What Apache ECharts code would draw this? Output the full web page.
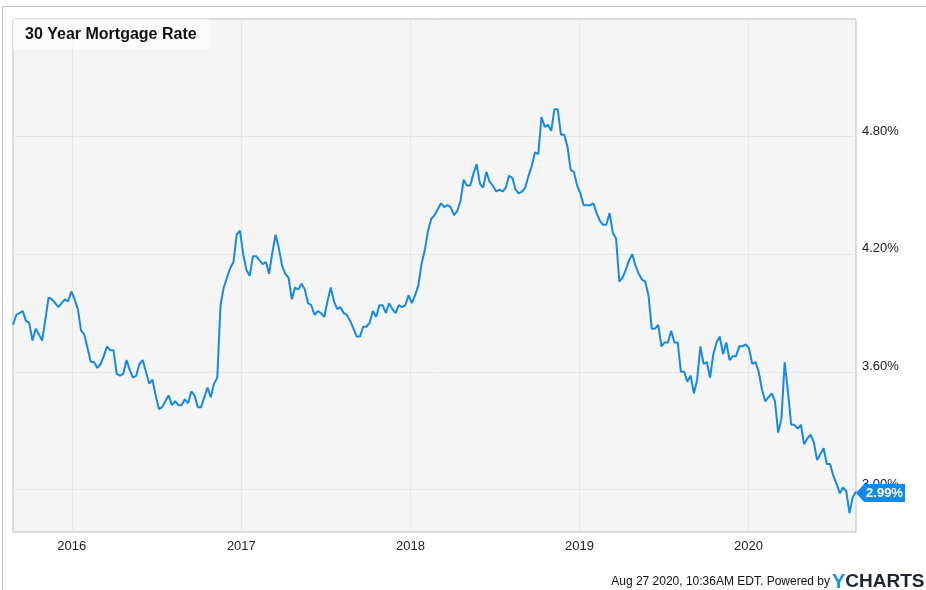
<!DOCTYPE html>
<html>
<head>
<meta charset="utf-8">
<script src="https://cdn.jsdelivr.net/npm/echarts@6/dist/echarts.min.js"></script>
<style>
  html, body { margin: 0; padding: 0; background: #ffffff; }
  #chart { width: 926px; height: 590px; }
</style>
</head>
<body>
<div id="chart"></div>
<script>
// Freddie Mac 30-year fixed, weekly (Thursdays), 2015-08-27 .. 2020-08-20
var firstWeek = '2015-08-27';
var rates2015 = [3.84,3.89,3.90,3.91,3.86,3.85,3.76,3.82,3.79,3.76,3.87,3.98,3.97,3.95,3.93,3.95,3.97,3.96,4.01];
var rates2016 = [3.97,3.92,3.81,3.79,3.72,3.65,3.65,3.62,3.64,3.68,3.73,3.71,3.71,3.59,3.58,3.59,3.66,3.61,3.57,3.58,3.64,3.66,3.60,3.54,3.56,3.48,3.41,3.42,3.45,3.48,3.43,3.45,3.43,3.43,3.46,3.44,3.50,3.48,3.42,3.42,3.47,3.52,3.47,3.54,3.57,3.94,4.03,4.08,4.13,4.16,4.30,4.32];
var rates2017 = [4.20,4.12,4.09,4.19,4.19,4.17,4.15,4.16,4.10,4.21,4.30,4.23,4.14,4.10,4.08,3.97,4.03,4.02,4.05,4.02,3.95,3.94,3.89,3.91,3.90,3.88,3.96,4.03,3.96,3.92,3.93,3.90,3.89,3.86,3.82,3.78,3.78,3.83,3.83,3.85,3.91,3.88,3.94,3.94,3.90,3.95,3.92,3.90,3.94,3.93,3.94,3.99];
var rates2018 = [3.95,3.99,4.04,4.15,4.22,4.32,4.38,4.40,4.43,4.46,4.44,4.45,4.44,4.40,4.42,4.47,4.58,4.55,4.55,4.61,4.66,4.56,4.54,4.62,4.57,4.55,4.52,4.53,4.52,4.54,4.60,4.59,4.53,4.51,4.52,4.54,4.60,4.65,4.72,4.71,4.90,4.85,4.86,4.83,4.94,4.94,4.81,4.81,4.75,4.63,4.62,4.55];
var rates2019 = [4.51,4.45,4.45,4.45,4.46,4.41,4.37,4.35,4.35,4.41,4.31,4.28,4.06,4.08,4.12,4.17,4.20,4.14,4.10,4.07,4.06,3.99,3.82,3.82,3.84,3.73,3.75,3.75,3.81,3.75,3.75,3.60,3.60,3.55,3.58,3.49,3.56,3.73,3.64,3.65,3.57,3.69,3.75,3.78,3.69,3.75,3.66,3.68,3.68,3.73,3.73,3.74];
var rates2020 = [3.72,3.64,3.65,3.60,3.51,3.45,3.47,3.49,3.45,3.29,3.36,3.65,3.50,3.33,3.33,3.31,3.33,3.23,3.26,3.28,3.24,3.15,3.18,3.21,3.13,3.13,3.07,3.03,2.98,3.01,2.99,2.88,2.96,2.99];
var yearTicks = ['2016-01-01','2017-01-01','2018-01-01','2019-01-01','2020-01-01'];
var rateTicks = [3.00, 3.60, 4.20, 4.80];
var chartTitle = '30 Year Mortgage Rate';
var footerText = 'Aug 27 2020, 10:36AM EDT. Powered by';

var rates = [].concat(rates2015, rates2016, rates2017, rates2018, rates2019, rates2020);
function parseDay(s) { var p = s.split('-'); return new Date(+p[0], +p[1] - 1, +p[2]).getTime(); }
var start = parseDay(firstWeek);
var seriesData = rates.map(function (v, i) {
  var d = new Date(start); d.setDate(d.getDate() + 7 * i);
  return [d.getTime(), v];
});
var last = seriesData[seriesData.length - 1];
var yearStamps = yearTicks.map(parseDay);
var FONT = "'Liberation Sans', Arial, sans-serif";
var BLUE = '#1589e6';

var chart = echarts.init(document.getElementById('chart'), null, { renderer: 'canvas' });
chart.setOption({
  animation: false,
  backgroundColor: '#ffffff',
  textStyle: { fontFamily: FONT },
  title: {
    text: chartTitle,
    left: 13, top: 19,
    padding: [8, 12, 6, 12],
    backgroundColor: 'rgba(255,255,255,0.65)',
    textStyle: { fontFamily: FONT, fontSize: 16, fontWeight: 'bold', color: '#111', lineHeight: 16 }
  },
  grid: {
    left: 13, right: 70, top: 19, bottom: 58,
    show: true, backgroundColor: '#f5f5f5', borderColor: '#bdbdbd', borderWidth: 1
  },
  xAxis: {
    type: 'value',
    min: seriesData[0][0], max: last[0],
    axisLine: { show: false },
    axisTick: { show: false, customValues: yearStamps },
    axisLabel: {
      customValues: yearStamps,
      formatter: function (v) { return String(new Date(v).getFullYear()); },
      color: '#222', fontSize: 13, fontFamily: FONT, margin: 8
    },
    splitLine: { show: true, lineStyle: { color: '#e6e6e6', width: 1 } }
  },
  yAxis: {
    type: 'value',
    position: 'right',
    min: 2.783, max: 5.40,
    axisLine: { show: false },
    axisTick: { show: false, customValues: rateTicks },
    axisLabel: {
      customValues: rateTicks,
      formatter: function (v) { return v.toFixed(2) + '%'; },
      color: '#222', fontSize: 13, fontFamily: FONT, margin: 6,
      verticalAlign: 'bottom', lineHeight: 11
    },
    splitLine: { show: true, lineStyle: { color: '#e6e6e6', width: 1 } }
  },
  series: [{
    type: 'line',
    data: seriesData,
    showSymbol: false,
    lineStyle: { color: BLUE, width: 2 },
    itemStyle: { color: BLUE },
    markPoint: {
      silent: true,
      symbol: 'path://M0,9 L8,0 L49,0 L49,18 L8,18 Z',
      symbolSize: [49, 18],
      symbolKeepAspect: false,
      symbolOffset: [24.5, 1.5],
      itemStyle: { color: BLUE },
      label: {
        show: true, position: 'inside', offset: [4, 0],
        color: '#fff', fontWeight: 'bold', fontSize: 13, fontFamily: FONT,
        formatter: function (p) { return p.value.toFixed(2) + '%'; }
      },
      data: [{ coord: last, value: last[1] }]
    }
  }],
  graphic: [
    { type: 'line', shape: { x1: 2.5, y1: 6.5, x2: 926, y2: 6.5 }, style: { stroke: '#c4c4c4', lineWidth: 1 }, silent: true },
    { type: 'line', shape: { x1: 2.5, y1: 6.5, x2: 2.5, y2: 590 }, style: { stroke: '#c4c4c4', lineWidth: 1 }, silent: true },
    { type: 'text', right: 96, top: 576,
      style: { text: footerText, fill: '#111', font: '12px ' + FONT } },
    { type: 'text', left: 832, top: 572,
      style: {
        text: '{y|Y}{c|CHARTS}',
        rich: {
          y: { fill: '#1a8fe3', fontSize: 20, fontWeight: 'bold', fontFamily: FONT },
          c: { fill: '#1d2533', fontSize: 19, fontWeight: 'bold', fontFamily: FONT }
        }
      } }
  ]
});
</script>
</body>
</html>
